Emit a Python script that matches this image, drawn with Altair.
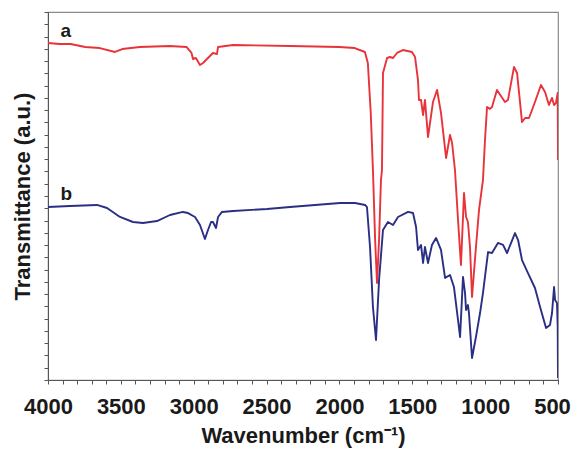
import altair as alt
import pandas as pd

# Spectrum a (red) - wavenumber (cm-1) and transmittance (a.u.)
wn_a = [4000, 3920, 3845, 3745, 3645, 3540, 3490, 3370, 3165, 3050, 3015,
        3005, 2985, 2957, 2936, 2909, 2868, 2840, 2833, 2730, 2340, 2000,
        1895, 1825, 1805, 1785, 1770, 1755, 1742, 1728, 1715, 1708, 1701,
        1673, 1653, 1632, 1605, 1564, 1502, 1481, 1461, 1454, 1440, 1426,
        1413, 1392, 1358, 1330, 1303, 1268, 1241, 1227, 1207, 1186, 1166,
        1145, 1131, 1118, 1104, 1090, 1063, 1042, 1015, 1001, 987, 967,
        953, 919, 864, 843, 802, 781, 747, 726, 699, 658, 617, 589, 562,
        541, 527, 514, 502, 500]
tr_a = [27.47, 27.39, 27.39, 27.15, 27.06, 26.74, 26.98, 27.15, 27.23, 27.15,
        26.66, 26.17, 26.25, 25.68, 25.84, 26.17, 26.66, 26.58, 27.15, 27.31,
        27.23, 27.15, 27.06, 26.74, 25.84, 21.77, 17.12, 11.41, 7.91, 11.41,
        16.30, 17.12, 25.03, 26.25, 26.33, 26.25, 26.66, 26.90, 26.74, 26.33,
        24.46, 22.83, 22.83, 21.60, 22.83, 19.81, 22.66, 23.64, 21.77, 18.10,
        19.97, 19.32, 17.12, 13.04, 9.37, 15.24, 13.29, 12.88, 10.84, 6.77,
        10.84, 13.86, 16.30, 19.56, 22.26, 22.10, 22.26, 23.64, 22.66, 22.83,
        25.52, 25.03, 21.03, 21.36, 21.36, 22.66, 24.05, 23.48, 22.42, 22.99,
        22.42, 22.58, 23.40, 17.93]

# Spectrum b (navy)
wn_b = [4000, 3849, 3664, 3595, 3506, 3417, 3348, 3252, 3163, 3074, 3039,
        2991, 2957, 2923, 2902, 2881, 2868, 2847, 2833, 2806, 2730, 2497,
        2339, 1996, 1893, 1824, 1811, 1790, 1770, 1749, 1728, 1701, 1667,
        1632, 1598, 1529, 1495, 1474, 1461, 1440, 1426, 1413, 1392, 1365,
        1337, 1303, 1275, 1241, 1214, 1186, 1172, 1152, 1138, 1131, 1118,
        1111, 1090, 1063, 1035, 1015, 980, 953, 912, 877, 850, 822, 795,
        774, 747, 706, 658, 623, 582, 555, 541, 527, 520, 507, 502, 500]
tr_b = [14.10, 14.18, 14.27, 14.02, 13.29, 12.88, 12.80, 12.96, 13.45, 13.70,
        13.61, 13.29, 12.64, 11.49, 12.23, 12.88, 12.88, 12.39, 13.29, 13.70,
        13.78, 13.94, 14.10, 14.43, 14.43, 14.27, 14.10, 10.84, 5.95, 3.26,
        8.15, 12.23, 12.88, 12.64, 13.29, 13.70, 13.61, 12.47, 10.60, 11.01,
        9.54, 10.84, 9.54, 11.01, 11.58, 10.60, 8.32, 8.56, 7.58, 4.89, 3.51,
        8.40, 7.09, 5.71, 6.11, 5.46, 1.79, 3.51, 5.46, 7.09, 10.43, 10.35,
        11.17, 11.01, 10.35, 11.17, 11.98, 11.41, 9.78, 8.72, 7.50, 5.95,
        4.24, 4.48, 5.46, 7.58, 6.52, 6.28, 4.32, 0.16]

labels = ["a", "b"]
label_wn = [3915, 3915]
label_tr = [28.0, 14.65]

x_ticks = list(range(500, 4001, 100))
y_ticks = list(range(0, 31))

df = pd.concat([
    pd.DataFrame({"wn": wn_a, "tr": tr_a, "series": "a", "idx": range(len(wn_a))}),
    pd.DataFrame({"wn": wn_b, "tr": tr_b, "series": "b", "idx": range(len(wn_b))}),
])
lab = pd.DataFrame({"wn": label_wn, "tr": label_tr, "text": labels})

xscale = alt.Scale(domain=[500, 4000], reverse=True, nice=False)
yscale = alt.Scale(domain=[0, 30], nice=False)

x_axis = alt.Axis(title="Wavenumber (cm⁻¹)",
                  values=x_ticks, tickCount=len(x_ticks),
                  labelExpr="datum.value % 500 == 0 ? format(datum.value, 'd') : ''",
                  labelOffset=alt.condition("datum.value == 500",
                                            alt.value(-6), alt.value(0)),
                  tickSize=4, labelPadding=12, labelFontSize=22,
                  labelFontWeight="bold", labelColor="#1a1a1a",
                  titleFontSize=22, titleFontWeight="bold",
                  titleColor="#1a1a1a", titlePadding=8,
                  labelFlush=False, labelOverlap=False,
                  domainColor="#555555", tickColor="#555555",
                  grid=False)
y_axis = alt.Axis(title="Transmittance (a.u.)",
                  values=y_ticks, tickCount=len(y_ticks), labels=False,
                  tickSize=4, titleFontSize=22, titleFontWeight="bold",
                  titleColor="#1a1a1a", titlePadding=9,
                  domainColor="#555555", tickColor="#555555",
                  grid=False)

lines = alt.Chart(df).mark_line(strokeWidth=1.9, clip=True,
                                strokeJoin="round").encode(
    x=alt.X("wn:Q", scale=xscale, axis=x_axis),
    y=alt.Y("tr:Q", scale=yscale, axis=y_axis),
    color=alt.Color("series:N", scale=alt.Scale(domain=["a", "b"],
                                                range=["#e8333a", "#2a2f85"]),
                    legend=None),
    order="idx:Q",
    detail="series:N",
)

text = alt.Chart(lab).mark_text(fontSize=19, fontWeight="bold", align="left",
                                baseline="alphabetic", color="#1a1a1a").encode(
    x=alt.X("wn:Q", scale=xscale, axis=x_axis),
    y=alt.Y("tr:Q", scale=yscale, axis=y_axis),
    text="text:N",
)

chart = alt.layer(lines, text).properties(
    width=510, height=368,
    padding={"left": 40, "top": 4, "right": 13, "bottom": 69},
    autosize=alt.AutoSizeParams(type="none"),
).configure_view(stroke="#8a8a8a", strokeWidth=1.2).configure_axis(
    labelFont="Liberation Sans", titleFont="Liberation Sans"
).configure_text(font="Liberation Sans")

chart.save("out.html", embed_options={"renderer": "svg", "actions": False})
